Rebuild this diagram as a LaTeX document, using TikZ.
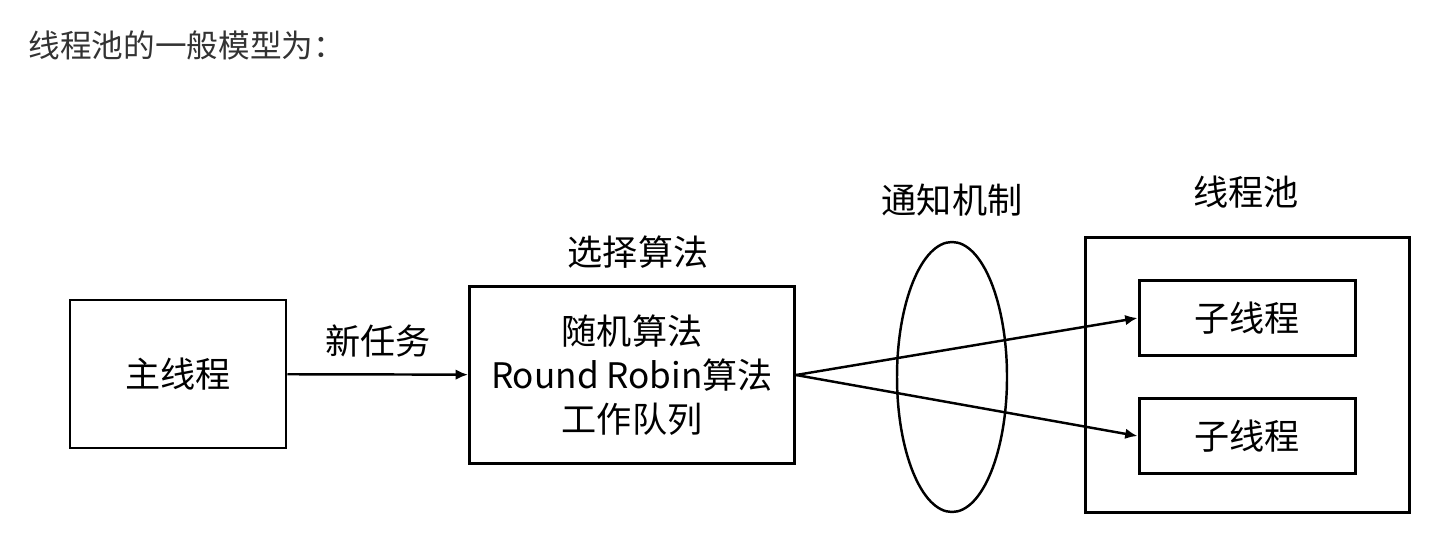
\documentclass[tikz,border=0pt]{standalone}
\usepackage{fontspec}
\setmainfont{Noto Sans CJK SC}
\usetikzlibrary{arrows.meta, shapes.geometric}

\begin{document}
\begin{tikzpicture}[
  box/.style={rectangle, draw, line width=1.7pt, inner sep=0pt,
              font=\fontsize{20}{25}\selectfont, align=center},
  ring/.style={ellipse, draw, line width=1.4pt, inner sep=0pt,
               minimum width=2.2cm, minimum height=5.4cm},
  conn/.style={-{Latex[length=7pt, width=6pt]}, line width=1.4pt},
  lbl/.style={font=\fontsize{20}{24}\selectfont}
]
\useasboundingbox (0,0) rectangle (28.64,-11);

% Heading
\node[anchor=west, text=black!80, font=\fontsize{18}{22}\selectfont]
  (title) at (0.45,-0.9) {线程池的一般模型为：};

% Main thread and selector
\node[box, minimum width=4.32cm, minimum height=2.96cm]
  (main) at (3.56,-7.48) {主线程};
\node[box, minimum width=6.5cm, minimum height=3.54cm]
  (sel) at (12.64,-7.5) {随机算法\\Round Robin算法\\工作队列};
\node[lbl] (sellbl) at (12.76,-5.04) {选择算法};

% Notification
\node[ring] (notify) at (19.04,-7.54) {};
\node[lbl] (notifylbl) at (19.04,-4.0) {通知机制};

% Thread pool
\node[box, minimum width=6.48cm, minimum height=5.5cm]
  (pool) at (24.94,-7.5) {};
\node[lbl] (poollbl) at (24.92,-3.84) {线程池};
\node[box, minimum width=4.32cm, minimum height=1.5cm]
  (sub1) at (24.94,-6.36) {子线程};
\node[box, minimum width=4.32cm, minimum height=1.5cm]
  (sub2) at (24.94,-8.72) {子线程};

% Connectors
\draw[conn] (main) -- node[lbl, above=6pt] (task) {新任务} (sel);
\draw[conn] (sel.east) -- (sub1.west);
\draw[conn] (sel.east) -- (sub2.west);
\end{tikzpicture}
\end{document}
